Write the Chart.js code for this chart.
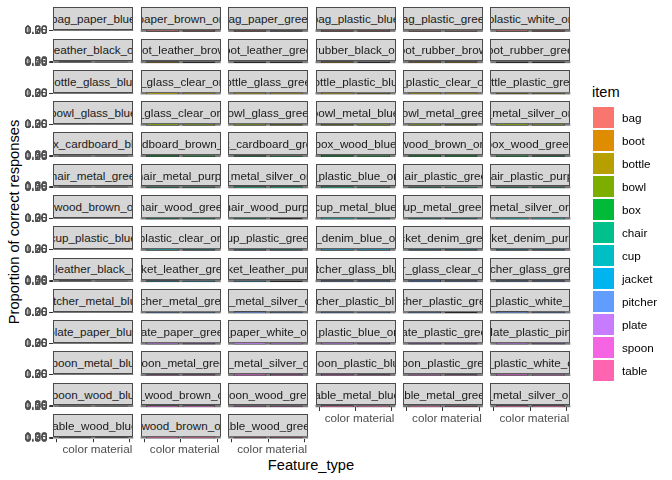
<!DOCTYPE html>
<html>
<head>
<meta charset="utf-8">
<script src="https://cdn.jsdelivr.net/npm/chart.js@4"></script>
<style>
  html, body { margin:0; padding:0; background:#fff; }
  body { width:672px; height:480px; position:relative; overflow:hidden; font-family:"Liberation Sans", Arial, Helvetica, sans-serif; }
  .strip { position:absolute; box-sizing:border-box; background:#D6D6D6; border:1px solid #4a4a4a; display:flex; justify-content:center; align-items:center; overflow:hidden; white-space:nowrap; font-size:11.7px; color:#1A1A1A; }
  .strip span { flex:none; }
  canvas.panel { position:absolute; }
  .ytitle { position:absolute; left:14px; top:222px; transform:translate(-50%,-50%) rotate(-90deg); font-size:14.67px; color:#000; white-space:nowrap; }
  .xtitle { position:absolute; left:311px; top:465px; transform:translate(-50%,-50%); font-size:14.67px; color:#000; white-space:nowrap; }
  .legtitle { position:absolute; left:592px; top:84px; font-size:14.67px; color:#000; }
  .key { position:absolute; width:21px; height:21px; }
  .keylab { position:absolute; font-size:11.7px; color:#000; transform:translateY(-50%); }
</style>
</head>
<body>
<div class="ytitle">Proportion of correct responses</div>
<div class="xtitle">Feature_type</div>
<div class="legtitle">item</div>
<script>
const items = ['bag','boot','bottle','bowl','box','chair','cup','jacket','pitcher','plate','spoon','table'];
const itemColors = ['#F8766D','#DE8C00','#B79F00','#7CAE00','#00BA38','#00C08B','#00BFC4','#00B4F0','#619CFF','#C77CFF','#F564E3','#FF64B0'];
const featureTypes = ['color','material'];
const yTicks = [0, 0.25, 0.5, 0.75, 1.0];
const conditions = [
 'bag_paper_blue','bag_paper_brown_original','bag_paper_green','bag_plastic_blue','bag_plastic_green','bag_plastic_white_original',
 'boot_leather_black_original','boot_leather_brown','boot_leather_green','boot_rubber_black_original','boot_rubber_brown','boot_rubber_green',
 'bottle_glass_blue','bottle_glass_clear_original','bottle_glass_green','bottle_plastic_blue','bottle_plastic_clear_original','bottle_plastic_green',
 'bowl_glass_blue','bowl_glass_clear_original','bowl_glass_green','bowl_metal_blue','bowl_metal_green','bowl_metal_silver_original',
 'box_cardboard_blue','box_cardboard_brown_original','box_cardboard_green','box_wood_blue','box_wood_brown_original','box_wood_green',
 'chair_metal_green','chair_metal_purple','chair_metal_silver_original','chair_plastic_blue_original','chair_plastic_green','chair_plastic_purple',
 'chair_wood_brown_original','chair_wood_green','chair_wood_purple','cup_metal_blue','cup_metal_green','cup_metal_silver_original',
 'cup_plastic_blue','cup_plastic_clear_original','cup_plastic_green','jacket_denim_blue_original','jacket_denim_green','jacket_denim_purple',
 'jacket_leather_black_original','jacket_leather_green','jacket_leather_purple','pitcher_glass_blue','pitcher_glass_clear_original','pitcher_glass_green',
 'pitcher_metal_blue','pitcher_metal_green','pitcher_metal_silver_original','pitcher_plastic_blue','pitcher_plastic_green','pitcher_plastic_white_original',
 'plate_paper_blue','plate_paper_green','plate_paper_white_original','plate_plastic_blue_original','plate_plastic_green','plate_plastic_pink',
 'spoon_metal_blue','spoon_metal_green','spoon_metal_silver_original','spoon_plastic_blue','spoon_plastic_green','spoon_plastic_white_original',
 'spoon_wood_blue','spoon_wood_brown_original','spoon_wood_green','table_metal_blue','table_metal_green','table_metal_silver_original',
 'table_wood_blue','table_wood_brown_original','table_wood_green'
];
const colorProp = [
 0.85,0.90,0.80,0.85,0.75,0.90, 0.90,0.80,0.75,0.85,0.80,0.70,
 0.80,0.90,0.85,0.80,0.85,0.75, 0.85,0.90,0.80,0.75,0.80,0.90,
 0.80,0.90,0.75,0.85,0.90,0.80, 0.75,0.80,0.90,0.85,0.80,0.75,
 0.90,0.80,0.75,0.85,0.80,0.90, 0.85,0.90,0.80,0.90,0.75,0.80,
 0.90,0.80,0.75,0.80,0.90,0.85, 0.80,0.75,0.90,0.85,0.80,0.90,
 0.85,0.80,0.90,0.85,0.75,0.80, 0.80,0.75,0.90,0.85,0.80,0.90,
 0.80,0.90,0.75,0.85,0.80,0.90, 0.80,0.90,0.75
];
const materialProp = [
 0.75,0.80,0.70,0.80,0.75,0.85, 0.80,0.75,0.70,0.75,0.80,0.70,
 0.85,0.85,0.80,0.75,0.80,0.75, 0.80,0.85,0.75,0.80,0.75,0.85,
 0.75,0.80,0.70,0.80,0.85,0.75, 0.80,0.75,0.85,0.75,0.70,0.75,
 0.85,0.75,0.70,0.80,0.75,0.85, 0.75,0.80,0.75,0.85,0.80,0.75,
 0.85,0.75,0.70,0.80,0.85,0.80, 0.80,0.75,0.85,0.75,0.70,0.80,
 0.70,0.75,0.80,0.75,0.70,0.75, 0.80,0.75,0.85,0.75,0.70,0.80,
 0.80,0.85,0.75,0.80,0.75,0.85, 0.80,0.85,0.75
];

// layout constants (px)
const NCOL = 6;
const COL0 = 53.3, COLSTEP = 87.4, PW = 80;
const ROW0 = 7.3, ROWSTEP = 31.28, STRIPH = 22.2, PH = 2.4;
const YAXW = 46, XAXH = 24;

const bgPlugin = {
  id: 'panelBg',
  beforeDatasetsDraw(chart) {
    const a = chart.chartArea, ctx = chart.ctx;
    ctx.save(); ctx.fillStyle = '#7a7a7a';
    ctx.fillRect(a.left, a.top, a.right - a.left, a.bottom - a.top);
    ctx.restore();
  }
};

conditions.forEach((cond, i) => {
  const r = Math.floor(i / NCOL), c = i % NCOL;
  const pl = COL0 + c * COLSTEP;
  const st = ROW0 + r * ROWSTEP;
  const pt = st + STRIPH;
  // strip
  const s = document.createElement('div');
  s.className = 'strip';
  s.style.left = pl + 'px'; s.style.top = st + 'px';
  s.style.width = PW + 'px'; s.style.height = (STRIPH + 0.6) + 'px';
  const sp = document.createElement('span'); sp.textContent = cond; s.appendChild(sp);
  document.body.appendChild(s);

  const isLeft = c === 0;
  const isBottom = (i + NCOL) >= conditions.length;
  const leftExt = isLeft ? 52 : 1, topExt = 8, botExt = isBottom ? 28 : 8, rightExt = 1;
  const cl = Math.floor(pl - leftExt), ct = Math.floor(pt - topExt);
  const cw = Math.ceil(pl + PW + rightExt) - cl;
  const ch = Math.ceil(pt + PH + botExt) - ct;
  const cv = document.createElement('canvas');
  cv.className = 'panel';
  cv.width = cw; cv.height = ch;
  cv.style.left = cl + 'px'; cv.style.top = ct + 'px';
  cv.style.width = cw + 'px'; cv.style.height = ch + 'px';
  document.body.appendChild(cv);

  const padLeft = (pl - cl) - (isLeft ? YAXW : 0);
  const padTop = pt - ct;
  const padRight = (cl + cw) - (pl + PW);
  const padBottom = (ct + ch) - (pt + PH) - (isBottom ? XAXH : 0);
  const item = cond.split('_')[0];
  const col = itemColors[items.indexOf(item)];

  new Chart(cv, {
    type: 'bar',
    data: {
      datasets: [{
        data: [{x: 1, y: colorProp[i]}, {x: 2, y: materialProp[i]}],
        backgroundColor: col,
        borderColor: '#262626',
        borderWidth: 0.7,
        borderSkipped: false,
        inflateAmount: 0,
        barThickness: 0.9 / 2.2 * PW
      }]
    },
    options: {
      responsive: false, maintainAspectRatio: false, animation: false,
      events: [],
      layout: { padding: { left: padLeft, top: padTop, right: padRight, bottom: padBottom } },
      plugins: { legend: { display: false }, tooltip: { enabled: false } },
      scales: {
        x: {
          type: 'linear', min: 0.4, max: 2.6, offset: false,
          display: isBottom,
          afterBuildTicks: sc => { sc.ticks = featureTypes.map((f, k) => ({ value: k + 1 })); },
          afterFit: sc => { sc.height = isBottom ? XAXH : 0; },
          ticks: { autoSkip: false, maxRotation: 0, padding: 1, color: '#4D4D4D',
                   font: { size: 11.7, family: '"Liberation Sans", Arial, sans-serif' },
                   callback: v => featureTypes[v - 1] },
          grid: { drawOnChartArea: false, drawTicks: true, tickLength: 3.7, color: '#333', lineWidth: 1 },
          border: { display: false }
        },
        y: {
          type: 'linear', min: -0.05, max: 1.05,
          display: isLeft,
          afterBuildTicks: sc => { sc.ticks = yTicks.map(v => ({ value: v })); },
          afterFit: sc => { sc.width = isLeft ? YAXW : 0; },
          ticks: { autoSkip: false, padding: 2, color: '#4D4D4D',
                   font: { size: 11.7, family: '"Liberation Sans", Arial, sans-serif' },
                   callback: v => v.toFixed(2) },
          grid: { drawOnChartArea: false, drawTicks: true, tickLength: 3.7, color: '#333', lineWidth: 1 },
          border: { display: false }
        }
      }
    },
    plugins: [bgPlugin]
  });
});

// legend
items.forEach((it, k) => {
  const y = 106.7 + k * 23;
  const kd = document.createElement('div');
  kd.className = 'key'; kd.style.left = '593px'; kd.style.top = y + 'px'; kd.style.background = itemColors[k];
  document.body.appendChild(kd);
  const lb = document.createElement('div');
  lb.className = 'keylab'; lb.style.left = '622px'; lb.style.top = (y + 10.5) + 'px'; lb.textContent = it;
  document.body.appendChild(lb);
});
</script>
</body>
</html>
